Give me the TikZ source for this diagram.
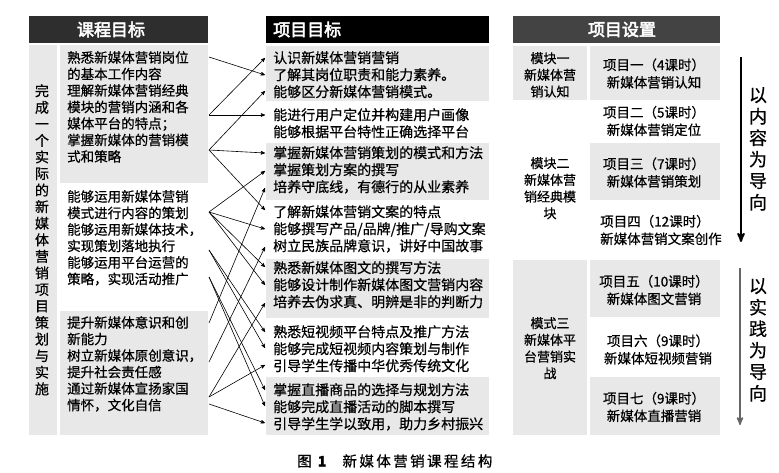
\documentclass[tikz,border=0pt]{standalone}
\usepackage{fontspec}
\newfontfamily\cjk{Noto Sans CJK SC}[FakeBold=0.6]
\newfontfamily\cjkhead{Noto Sans CJK SC}[FakeBold=3]
\usetikzlibrary{arrows}
\definecolor{boxgray}{HTML}{E8E8E8}
\definecolor{headgray}{HTML}{2E2E2E}

\begin{document}
\begin{tikzpicture}[x=1pt,y=-1pt,
  hd/.style={text=white,font=\cjkhead\fontsize{17}{20}\selectfont,inner sep=0},
  ltxt/.style={font=\cjk\fontsize{13.5}{16.5}\selectfont,align=left,inner sep=0,anchor=north west},
  mtxt/.style={font=\cjk\fontsize{14}{17}\selectfont,align=left,inner sep=0,anchor=north west},
  cell/.style={font=\cjk\fontsize{13.5}{17.5}\selectfont,align=center,inner sep=0},
  modl/.style={font=\cjk\fontsize{13}{16.7}\selectfont,align=center,inner sep=0,anchor=north},
  vtxt/.style={font=\cjk\fontsize{14}{16.56}\selectfont,align=center,inner sep=0,anchor=north},
  side/.style={font=\cjk\fontsize{18}{21.5}\selectfont,align=center,inner sep=0,anchor=north},
  link/.style={->,>=stealth',line width=0.6pt}]
 \useasboundingbox (0,0) rectangle (779,473);
 \fill[white] (0,0) rectangle (779,473);

 \fill[headgray] (29,16) rectangle (208,43);
 \fill[black] (266,16) rectangle (489,43);
 \fill[headgray!90] (513,16) rectangle (720,43);
 \node[hd] (H1) at (111,29.5) {课程目标};
 \node[hd,anchor=west] (H2) at (273,29.5) {项目目标};
 \node[hd] (H3) at (622,29.5) {项目设置};

 \fill[boxgray] (29,45) rectangle (57,435);
 \fill[boxgray] (60,45) rectangle (208,183);
 \fill[boxgray] (60,311) rectangle (208,435);
 \node[vtxt] (V1) at (42,84) {完\\成\\一\\个\\实\\际\\的\\新\\媒\\体\\营\\销\\项\\目\\策\\划\\与\\实\\施};
 \node[ltxt] (L1) at (67,51) {熟悉新媒体营销岗位\\的基本工作内容\\理解新媒体营销经典\\模块的营销内涵和各\\媒体平台的特点；\\掌握新媒体的营销模\\式和策略};
 \node[ltxt] (L2) at (67,190) {能够运用新媒体营销\\模式进行内容的策划\\能够运用新媒体技术，\\实现策划落地执行\\能够运用平台运营的\\策略，实现活动推广};
 \node[ltxt] (L3) at (67,316) {提升新媒体意识和创\\新能力\\树立新媒体原创意识，\\提升社会责任感\\通过新媒体宣扬家国\\情怀，文化自信};

 \fill[boxgray] (266,46) rectangle (489,101);
 \fill[boxgray] (266,143) rectangle (489,200);
 \fill[boxgray] (266,259) rectangle (489,318);
 \fill[boxgray] (266,377) rectangle (489,435);
 \node[mtxt] (M1) at (273,51) {认识新媒体营销营销\\了解其岗位职责和能力素养。\\能够区分新媒体营销模式。};
 \node[mtxt] (M2) at (273,108) {能进行用户定位并构建用户画像\\能够根据平台特性正确选择平台};
 \node[mtxt] (M3) at (273,146) {掌握新媒体营销策划的模式和方法\\掌握策划方案的撰写\\培养守底线，有德行的从业素养};
 \node[mtxt] (M4) at (273,205) {了解新媒体营销文案的特点\\能够撰写产品/品牌/推广/导购文案\\树立民族品牌意识，讲好中国故事};
 \node[mtxt] (M5) at (273,261) {熟悉新媒体图文的撰写方法\\能够设计制作新媒体图文营销内容\\培养去伪求真、明辨是非的判断力};
 \node[mtxt] (M6) at (273,325) {熟悉短视频平台特点及推广方法\\能够完成短视频内容策划与制作\\引导学生传播中华优秀传统文化};
 \node[mtxt] (M7) at (273,383) {掌握直播商品的选择与规划方法\\能够完成直播活动的脚本撰写\\引导学生学以致用，助力乡村振兴};

 \fill[boxgray] (513,46) rectangle (587,100);
 \fill[boxgray] (590,46) rectangle (720,100);
 \fill[boxgray] (590,143) rectangle (720,200);
 \fill[boxgray] (513,260) rectangle (587,435);
 \fill[boxgray] (590,260) rectangle (720,317);
 \fill[boxgray] (590,377) rectangle (720,435);
 \node[modl] (K1) at (550,52) {模块一\\新媒体营\\销认知};
 \node[modl] (K2) at (550,157) {模块二\\新媒体营\\销经典模\\块};
 \node[modl] (K3) at (550,317) {模式三\\新媒体平\\台营销实\\战};
 \node[cell] (P1) at (654,73.5) {项目一（4课时）\\新媒体营销认知};
 \node[cell] (P2) at (654,121) {项目二（5课时）\\新媒体营销定位};
 \node[cell] (P3) at (654,172.5) {项目三（7课时）\\新媒体营销策划};
 \node[cell,align=left,anchor=west] (P4) at (600,230) {项目四（12课时）\\新媒体营销文案创作};
 \node[cell] (P5) at (654,290) {项目五（10课时）\\新媒体图文营销};
 \node[cell] (P6) at (658,349.5) {项目六（9课时）\\新媒体短视频营销};
 \node[cell] (P7) at (654,407) {项目七（9课时）\\新媒体直播营销};

 \coordinate (A1) at (741,57);
 \coordinate (A2) at (741,242);
 \coordinate (B1) at (740,268);
 \coordinate (B2) at (740,425);
 \draw [->,>=stealth',line width=2pt] (A1) -- (A2);
 \draw [->,>=stealth',line width=1.6pt,black!60] (B1) -- (B2);
 \node[side] (D1) at (758,87) {以\\内\\容\\为\\导\\向};
 \node[side] (D2) at (758,278) {以\\实\\践\\为\\导\\向};

 \coordinate (S1) at (209,57);
 \coordinate (S2) at (209,115);
 \coordinate (S3) at (209,150);
 \coordinate (S4) at (209,212);
 \coordinate (S5) at (209,250);
 \coordinate (S6) at (209,277);
 \coordinate (S7) at (209,323);
 \coordinate (S8) at (209,362);
 \coordinate (S9) at (209,397);
 \coordinate (S10) at (209,404);
 \coordinate (T1) at (265,58);
 \coordinate (T2) at (265,75);
 \coordinate (T3) at (265,91);
 \coordinate (T4) at (265,115);
 \coordinate (T6) at (265,153);
 \coordinate (T7) at (265,171);
 \coordinate (T8) at (265,188);
 \coordinate (T9) at (265,210);
 \coordinate (T10) at (265,229);
 \coordinate (T11) at (265,247);
 \coordinate (T12) at (265,267);
 \coordinate (T13) at (265,285);
 \coordinate (T14) at (265,303);
 \coordinate (T15) at (265,332);
 \coordinate (T16) at (265,348);
 \coordinate (T17) at (265,365);
 \coordinate (T18) at (265,390);
 \coordinate (T19) at (265,406);
 \coordinate (T20) at (265,423);
 \draw [link] (S1) -- (T2);
 \draw [link] (S2) -- (T1);
 \draw [link] (S2) -- (T4);
 \draw [link] (S3) -- (T3);
 \draw [link] (S3) -- (T6);
 \draw [link] (S3) -- (T9);
 \draw [link] (S4) -- (T7);
 \draw [link] (S4) -- (T10);
 \draw [link] (S4) -- (T12);
 \draw [link] (S4) -- (T13);
 \draw [link] (S5) -- (T15);
 \draw [link] (S5) -- (T16);
 \draw [link] (S6) -- (T18);
 \draw [link] (S6) -- (T19);
 \draw [link] (S7) -- (T8);
 \draw [link] (S8) -- (T11);
 \draw [link] (S9) -- (T14);
 \draw [link] (S9) -- (T17);
 \draw [link] (S10) -- (T20);

 \node[font=\cjk\fontsize{14.5}{16}\selectfont,anchor=west,inner sep=0] (C1) at (297,461) {图\hspace{6pt}\textbf{1}\hspace{16pt}新\,媒\,体\,营\,销\,课\,程\,结\,构};
\end{tikzpicture}
\end{document}
